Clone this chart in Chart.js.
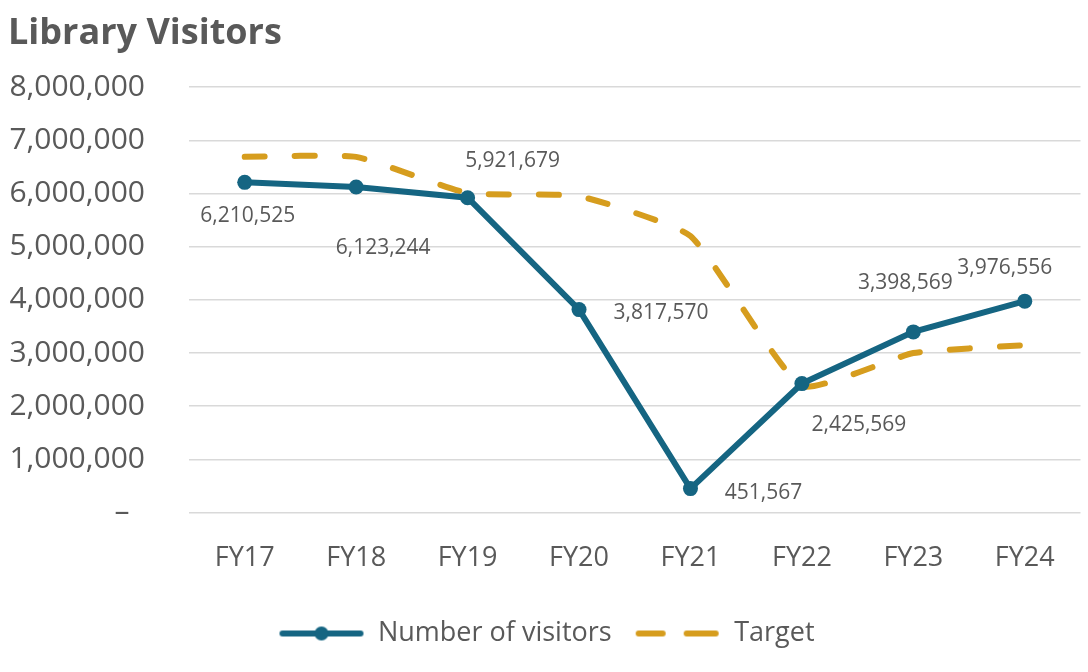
<!DOCTYPE html>
<html>
<head>
<meta charset="utf-8">
<script src="https://cdn.jsdelivr.net/npm/chart.js@4"></script>
<style>
  body { margin: 0; background: #fff; }
  #wrap { width: 1088px; height: 672px; }
</style>
</head>
<body>
<div id="wrap"><canvas id="visitorsChart"></canvas></div>
<script>
const years = ["FY17", "FY18", "FY19", "FY20", "FY21", "FY22", "FY23", "FY24"];
const visitors = [6210525, 6123244, 5921679, 3817570, 451567, 2425569, 3398569, 3976556];
const target = [6690000, 6690000, 6010000, 5950000, 5200000, 2380000, 3000000, 3150000];
const yTicks = [0, 1000000, 2000000, 3000000, 4000000, 5000000, 6000000, 7000000, 8000000];

const BLUE = "#156582";
const GOLD = "#d69d1e";
const TEXT = "#595959";
const FONT = "'Open Sans', 'Noto Sans', sans-serif";

// where each data label sits relative to its point (dx, dy)
const labelShift = [[3, 34], [27, 61], [45, -37], [82, 3], [73, 4], [57, 41], [-8, -49], [-20, -33]];

const fmt = v => v.toLocaleString("en-US");

// legend swatches
function swatch(dashed) {
  const c = document.createElement("canvas");
  c.width = 86; c.height = 20;
  const g = c.getContext("2d");
  g.lineWidth = 6;
  g.lineCap = "round";
  if (dashed) {
    g.strokeStyle = GOLD;
    g.beginPath(); g.moveTo(4, 10); g.lineTo(28, 10); g.stroke();
    g.beginPath(); g.moveTo(52, 10); g.lineTo(81, 10); g.stroke();
  } else {
    g.strokeStyle = BLUE;
    g.beginPath(); g.moveTo(4, 10); g.lineTo(82, 10); g.stroke();
    g.fillStyle = BLUE;
    g.beginPath(); g.arc(43, 10, 7, 0, Math.PI * 2); g.fill();
  }
  return c;
}

const dataLabels = {
  id: "dataLabels",
  afterDatasetsDraw(chart) {
    const ctx = chart.ctx;
    const meta = chart.getDatasetMeta(0);
    ctx.save();
    ctx.font = "21px " + FONT;
    ctx.fillStyle = TEXT;
    ctx.textAlign = "center";
    ctx.textBaseline = "middle";
    meta.data.forEach((pt, i) => {
      ctx.fillText(fmt(visitors[i]), pt.x + labelShift[i][0], pt.y + labelShift[i][1]);
    });
    ctx.restore();
  }
};

new Chart(document.getElementById("visitorsChart"), {
  type: "line",
  data: {
    labels: years,
    datasets: [
      {
        label: "Number of visitors",
        data: visitors,
        borderColor: BLUE,
        backgroundColor: BLUE,
        borderWidth: 6,
        pointRadius: 7.5,
        pointHoverRadius: 7.5,
        pointBackgroundColor: BLUE,
        pointBorderWidth: 0,
        tension: 0,
        order: 0
      },
      {
        label: "Target",
        data: target,
        borderColor: GOLD,
        backgroundColor: GOLD,
        borderWidth: 6,
        borderDash: [20, 30],
        borderCapStyle: "round",
        pointRadius: 0,
        tension: 0.15,
        order: 1
      }
    ]
  },
  options: {
    responsive: true,
    maintainAspectRatio: false,
    animation: false,
    layout: { padding: { left: 8, right: 3, top: 12, bottom: 15 } },
    plugins: {
      title: {
        display: true,
        text: "Library Visitors",
        align: "start",
        color: TEXT,
        font: { family: FONT, size: 36, weight: "bold" },
        padding: { top: 0, bottom: 32 }
      },
      legend: {
        position: "bottom",
        labels: {
          usePointStyle: true,
          pointStyleWidth: 86,
          color: TEXT,
          font: { family: FONT, size: 27 },
          padding: 23,
          generateLabels(chart) {
            return chart.data.datasets.map((ds, i) => ({
              text: ds.label,
              pointStyle: swatch(i === 1),
              fontColor: TEXT,
              datasetIndex: i,
              hidden: false
            }));
          }
        }
      },
      tooltip: { enabled: false }
    },
    scales: {
      x: {
        offset: true,
        grid: { display: false },
        border: { display: false },
        ticks: { color: TEXT, font: { family: FONT, size: 27 }, padding: 22 }
      },
      y: {
        min: 0,
        max: 8000000,
        afterBuildTicks(axis) { axis.ticks = yTicks.map(v => ({ value: v })); },
        afterFit(axis) { axis.width = 181; },
        grid: { color: "#d9d9d9", lineWidth: 1.5, drawTicks: false },
        border: { display: false },
        ticks: {
          color: TEXT,
          font: { family: FONT, size: 30 },
          padding: 44,
          callback: v => v === 0 ? "–  " : fmt(v)
        }
      }
    }
  },
  plugins: [dataLabels]
});
</script>
</body>
</html>
